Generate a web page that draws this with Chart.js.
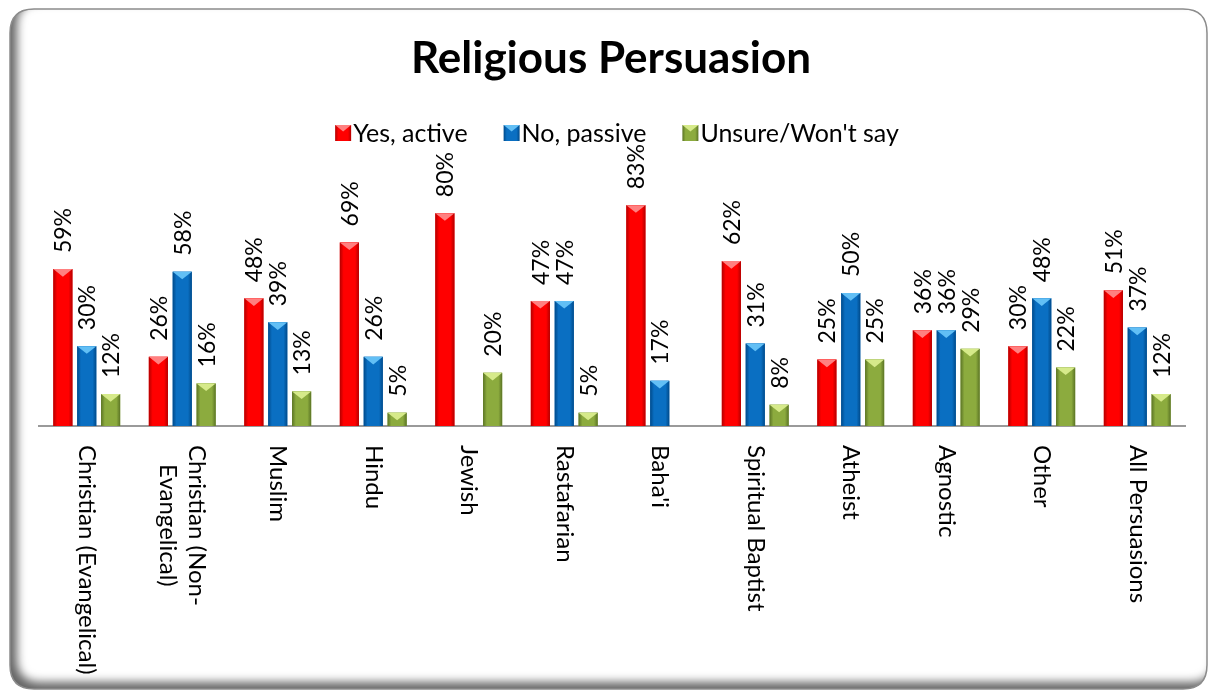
<!DOCTYPE html>
<html>
<head>
<meta charset="utf-8">
<title>Religious Persuasion</title>
<script src="https://cdn.jsdelivr.net/npm/chart.js@4.4.1/dist/chart.umd.min.js"></script>
<style>
  html, body { margin: 0; padding: 0; background: #fff; }
  #chart { display: block; }
</style>
</head>
<body>
<canvas id="chart" width="1208" height="692"></canvas>
<script>
const chartTitle = 'Religious Persuasion';
const categories = [
  'Christian (Evangelical)',
  ['Christian (Non-', 'Evangelical)'],
  'Muslim', 'Hindu', 'Jewish', 'Rastafarian', "Baha'i",
  'Spiritual Baptist', 'Atheist', 'Agnostic', 'Other', 'All Persuasions'
];
const seriesNames = ['Yes, active', 'No, passive', "Unsure/Won't say"];
const yesActive = [59, 26, 48, 69, 80, 47, 83, 62, 25, 36, 30, 51];
const noPassive = [30, 58, 39, 26, null, 47, 17, 31, 50, 36, 48, 37];
const unsure    = [12, 16, 13, 5, 20, 5, null, 8, 25, 29, 22, 12];

// base fill, darker side bevel, lighter top facet
const palette = [
  { base: '#ff0000', edge: '#b30000', top: '#ff8080' },
  { base: '#0a6fc2', edge: '#004a8a', top: '#62bff5' },
  { base: '#8cab3e', edge: '#5b7425', top: '#d6ea8a' }
];

const FONT = 'Lato, "Open Sans", sans-serif';

function roundRectPath(ctx, x, y, w, h, r) {
  ctx.moveTo(x + r, y);
  ctx.lineTo(x + w - r, y);
  ctx.quadraticCurveTo(x + w, y, x + w, y + r);
  ctx.lineTo(x + w, y + h - r);
  ctx.quadraticCurveTo(x + w, y + h, x + w - r, y + h);
  ctx.lineTo(x + r, y + h);
  ctx.quadraticCurveTo(x, y + h, x, y + h - r);
  ctx.lineTo(x, y + r);
  ctx.quadraticCurveTo(x, y, x + r, y);
  ctx.closePath();
}

function bevelBox(ctx, left, top, w, h, c) {
  const g = ctx.createLinearGradient(left, 0, left + w, 0);
  g.addColorStop(0, c.edge);
  g.addColorStop(0.2, c.base);
  g.addColorStop(0.8, c.base);
  g.addColorStop(1, c.edge);
  ctx.fillStyle = g;
  ctx.fillRect(left, top, w, h);
  const d = Math.min(w * 0.4, h);
  ctx.beginPath();
  ctx.moveTo(left, top);
  ctx.lineTo(left + w, top);
  ctx.lineTo(left + w / 2, top + d);
  ctx.closePath();
  ctx.fillStyle = c.top;
  ctx.fill();
}

// rounded frame with a soft inner shadow on the left and bottom
const framePlugin = {
  id: 'frame',
  beforeDraw(chart) {
    const ctx = chart.ctx;
    const x = 10, y = 9, w = 1197, h = 680, r = 24;
    ctx.save();
    ctx.beginPath();
    roundRectPath(ctx, x, y, w, h, r);
    ctx.fillStyle = '#fff';
    ctx.fill();
    ctx.clip();
    ctx.beginPath();
    ctx.rect(-200, -200, 1608, 1092);
    roundRectPath(ctx, x, y, w, h, r);
    ctx.shadowColor = 'rgba(0,0,0,0.6)';
    ctx.shadowBlur = 10;
    ctx.shadowOffsetX = 7;
    ctx.shadowOffsetY = -7;
    ctx.fillStyle = '#000';
    ctx.fill('evenodd');
    ctx.restore();
    ctx.save();
    ctx.beginPath();
    roundRectPath(ctx, x, y, w, h, r);
    ctx.strokeStyle = '#8c8c8c';
    ctx.lineWidth = 1.5;
    ctx.stroke();
    ctx.restore();
  }
};

// bevelled bars and rotated value labels
const barPlugin = {
  id: 'bevelBars',
  afterDatasetsDraw(chart) {
    const ctx = chart.ctx;
    ctx.save();
    chart.data.datasets.forEach((ds, i) => {
      chart.getDatasetMeta(i).data.forEach((bar, j) => {
        if (ds.data[j] == null) return;
        const p = bar.getProps(['x', 'y', 'base', 'width'], true);
        bevelBox(ctx, p.x - p.width / 2, p.y, p.width, p.base - p.y, palette[i]);
      });
    });
    ctx.font = '23px ' + FONT;
    ctx.fillStyle = '#000';
    ctx.textAlign = 'left';
    ctx.textBaseline = 'middle';
    chart.data.datasets.forEach((ds, i) => {
      chart.getDatasetMeta(i).data.forEach((bar, j) => {
        const v = ds.data[j];
        if (v == null) return;
        const p = bar.getProps(['x', 'y'], true);
        ctx.save();
        ctx.translate(p.x + 1, p.y - 16);
        ctx.rotate(-Math.PI / 2);
        ctx.fillText(v + '%', 0, 0);
        ctx.restore();
      });
    });
    ctx.restore();
  }
};

// category names rotated to read downwards, title and legend
const textPlugin = {
  id: 'texts',
  afterDraw(chart) {
    const ctx = chart.ctx;
    const xs = chart.scales.x;
    const top = chart.chartArea.bottom + 19;
    const lh = 29;
    ctx.save();
    ctx.font = '24px ' + FONT;
    ctx.fillStyle = '#000';
    ctx.textAlign = 'center';
    ctx.textBaseline = 'middle';
    categories.forEach((lab, i) => {
      const lines = Array.isArray(lab) ? lab : [lab];
      const w = Math.max(...lines.map(l => ctx.measureText(l).width));
      ctx.save();
      ctx.translate(xs.getPixelForValue(i), top);
      ctx.rotate(Math.PI / 2);
      lines.forEach((l, k) => ctx.fillText(l, w / 2, (k - (lines.length - 1) / 2) * lh));
      ctx.restore();
    });

    ctx.font = 'bold 44px ' + FONT;
    ctx.textBaseline = 'alphabetic';
    ctx.fillText(chartTitle, 611, 73);

    ctx.font = '25px ' + FONT;
    ctx.textAlign = 'left';
    const box = 16, gapText = 2, gapItem = 36;
    const widths = seriesNames.map(n => box + gapText + ctx.measureText(n).width);
    const total = widths.reduce((a, b) => a + b, 0) + gapItem * (widths.length - 1);
    let lx = 617 - total / 2;
    const ly = 133;
    seriesNames.forEach((n, i) => {
      bevelBox(ctx, lx, ly - box / 2, box, box, palette[i]);
      ctx.fillStyle = '#000';
      ctx.textBaseline = 'middle';
      ctx.fillText(n, lx + box + gapText, ly + 1);
      lx += widths[i] + gapItem;
    });
    ctx.restore();
  }
};

new Chart(document.getElementById('chart'), {
  type: 'bar',
  data: {
    labels: categories,
    datasets: [
      { label: seriesNames[0], data: yesActive, backgroundColor: palette[0].base },
      { label: seriesNames[1], data: noPassive, backgroundColor: palette[1].base },
      { label: seriesNames[2], data: unsure, backgroundColor: palette[2].base }
    ]
  },
  options: {
    responsive: false,
    animation: false,
    layout: { padding: { left: 39, right: 23, top: 160, bottom: 258 } },
    datasets: { bar: { categoryPercentage: 0.75, barPercentage: 0.8 } },
    plugins: {
      legend: { display: false },
      title: { display: false },
      tooltip: { enabled: false }
    },
    scales: {
      x: {
        grid: { display: false },
        ticks: { display: false },
        border: { display: true, color: '#9a9a9a', width: 2 }
      },
      y: { display: false, min: 0, max: 100 }
    }
  },
  plugins: [framePlugin, barPlugin, textPlugin]
});
</script>
</body>
</html>
